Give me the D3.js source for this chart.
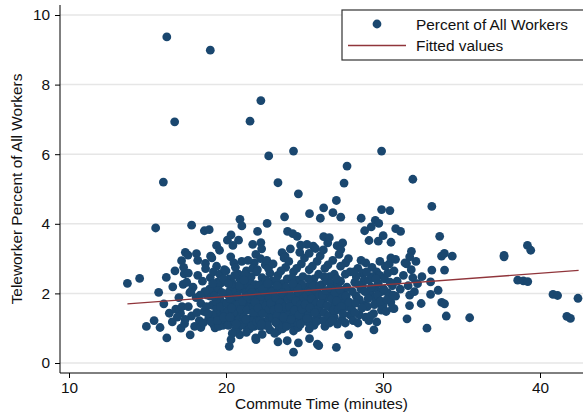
<!DOCTYPE html>
<html>
<head>
<meta charset="utf-8">
<script src="https://cdn.jsdelivr.net/npm/d3@7"></script>
<style>
  body { margin: 0; background: #fff; }
  svg text { font-family: "Liberation Sans", Arial, sans-serif; fill: #111; }
</style>
</head>
<body>
<div id="chart"></div>
<script>
// commute time (minutes), teleworker percent of all workers
var sparsePoints = [
  [16.23,9.37],[19.0,8.99],[22.22,7.54],[16.73,6.93],[21.53,6.95],[22.72,5.95],[24.30,6.09],[29.91,6.09],
  [27.71,5.66],[16.01,5.20],[23.31,5.18],[27.52,5.17],[31.90,5.28],[24.61,4.86],[27.03,4.67],[33.11,4.50],
  [25.32,4.29],[26.22,4.46],[26.01,4.16],[26.81,4.32],[27.31,4.19],[28.61,4.16],[29.91,4.41],[30.44,4.38],
  [23.73,4.20],[20.89,4.13],[21.01,3.94],[22.62,4.01],[17.81,3.96],[15.52,3.88],[18.62,3.80],[18.93,3.83],
  [22.01,3.78],[23.92,3.78],[24.25,3.72],[24.53,3.64],[28.83,3.80],[29.25,3.91],[29.51,4.10],[29.73,4.01],
  [30.01,3.66],[30.81,3.86],[31.12,3.78],[30.51,3.47],[29.70,3.50],[29.11,3.52],[33.61,3.64],[37.71,3.09],
  [37.71,3.05],[39.20,3.38],[39.41,3.24],[31.81,3.21],[33.73,3.07],[33.91,3.15],[34.41,3.07],[33.11,2.67],
  [33.92,2.67],[32.48,2.48],[33.03,2.33],[33.03,1.97],[33.51,2.09],[33.74,1.74],[33.92,1.70],[34.03,1.35],
  [35.52,1.30],[32.80,1.00],[32.43,1.71],[31.69,1.65],[31.53,1.27],[30.70,1.56],[38.58,2.38],[38.94,2.36],
  [39.22,2.34],[40.83,1.97],[41.12,1.94],[41.71,1.34],[41.94,1.28],[42.42,1.86],[13.72,2.29],[14.50,2.43],
  [15.71,2.03],[14.93,1.05],[15.42,1.22],[15.80,1.02],[16.04,1.70],[16.20,2.46],[16.23,0.72],[16.58,1.18],
  [16.39,1.43],[16.75,2.65],[16.61,2.19],[17.17,2.94],[17.34,2.56],[17.27,2.26],[17.41,3.18],[17.58,3.10],
  [18.12,3.14],[17.13,1.00],[17.36,1.13],[17.72,0.81],[17.10,1.43],[17.77,2.05],[18.69,2.86],[19.02,3.07],
  [19.40,3.38],[19.59,3.24],[20.09,3.53],[20.32,3.68],[20.80,3.53],[20.44,3.38],[20.21,0.48],[23.31,0.61],
  [23.90,0.64],[24.30,0.31],[24.61,0.58],[25.32,0.70],[25.82,0.54],[25.91,0.50],[27.03,0.45],[27.81,0.81],
  [29.42,0.95],[21.89,0.72],[21.91,0.67],[20.87,0.81],[20.32,0.67],[21.70,3.41],[22.22,3.46],[22.27,3.28],
  [23.57,3.17],[23.76,3.07],[24.75,3.39],[25.16,3.41],[25.56,3.36],[25.70,3.29],[26.22,3.63],[26.58,3.60],
  [26.48,3.45],[27.08,3.37],[27.43,3.45],[27.31,3.26],[27.62,2.88]
];
var densePoints = [
  [16.8,1.55],[17.0,1.88],[17.2,1.62],[17.4,1.25],[17.5,2.32],[16.9,1.32],[17.3,2.75],[17.6,2.58],
  [17.6,1.62],[17.8,1.35],[17.9,2.18],[18.0,1.05],[18.1,1.88],[18.2,2.52],[18.3,1.22],[18.4,1.71],
  [18.5,2.35],[18.2,2.95],[17.7,2.02],[18.6,1.48],[18.7,2.71],[18.4,1.02],[18.8,1.95],
  [18.9,1.28],[19.0,2.45],[19.1,1.66],[19.2,1.12],[19.3,2.08],[19.4,2.78],[19.5,1.42],[19.6,1.85],
  [19.7,2.30],[19.8,1.08],[19.0,1.92],[19.2,2.62],[19.4,1.55],[19.6,2.55],[19.8,1.72],[19.1,3.02],
  [19.5,2.15],[19.7,1.25],[19.3,1.01],[19.9,2.68],
  [20.0,1.35],[20.1,1.98],[20.2,2.42],[20.3,1.15],[20.4,1.75],[20.5,2.88],[20.6,1.50],[20.7,2.20],
  [20.8,1.02],[20.9,1.82],[20.0,2.65],[20.2,1.62],[20.4,2.30],[20.6,0.95],[20.8,2.55],[20.1,1.25],
  [20.3,3.05],[20.5,1.92],[20.7,1.38],[20.9,2.40],[20.4,0.85],[20.6,2.75],[20.2,2.05],
  [21.0,1.45],[21.1,2.12],[21.2,1.08],[21.3,2.65],[21.4,1.72],[21.5,2.38],[21.6,1.28],[21.7,1.95],
  [21.8,2.88],[21.9,1.55],[21.0,2.92],[21.2,1.85],[21.4,1.15],[21.6,2.48],[21.8,1.38],[21.1,1.65],
  [21.3,2.22],[21.5,0.98],[21.7,2.72],[21.9,2.05],[21.0,1.12],[21.2,2.55],[21.4,2.95],[21.6,1.78],
  [21.8,1.05],[21.5,1.58],[21.9,3.12],[21.3,0.88],[21.7,1.22],
  [22.0,1.32],[22.1,2.02],[22.2,1.62],[22.3,2.45],[22.4,1.18],[22.5,2.82],[22.6,1.48],[22.7,2.15],
  [22.8,0.95],[22.9,1.85],[22.0,2.68],[22.2,1.05],[22.4,2.25],[22.6,1.78],[22.8,2.58],[22.1,1.45],
  [22.3,0.82],[22.5,1.92],[22.7,1.25],[22.9,2.35],[22.0,1.88],[22.2,3.00],[22.4,1.58],[22.6,2.95],
  [22.8,1.35],[22.5,1.08],[22.9,1.62],[22.3,1.72],[22.7,2.72],
  [23.0,1.28],[23.1,2.08],[23.2,1.62],[23.3,2.52],[23.4,1.02],[23.5,1.88],[23.6,2.28],[23.7,1.42],
  [23.8,2.75],[23.9,1.15],[23.0,2.85],[23.2,1.15],[23.4,2.18],[23.6,1.72],[23.8,1.92],[23.1,1.48],
  [23.3,0.92],[23.5,2.65],[23.7,2.05],[23.9,1.58],[23.0,1.72],[23.2,2.38],[23.4,1.52],[23.6,0.98],
  [23.8,1.28],[23.5,1.28],[23.9,2.42],[23.3,1.82],[23.7,3.02],[23.1,0.85],
  [24.0,1.38],[24.1,2.12],[24.2,1.72],[24.3,2.62],[24.4,1.08],[24.5,1.95],[24.6,2.38],[24.7,1.48],
  [24.8,2.85],[24.9,1.22],[24.0,2.92],[24.2,1.12],[24.4,2.22],[24.6,1.78],[24.8,2.02],[24.1,1.55],
  [24.3,0.92],[24.5,2.72],[24.7,2.18],[24.9,1.65],[24.0,1.85],[24.2,2.45],[24.4,1.58],[24.6,1.02],
  [24.8,1.32],[24.5,1.35],[24.9,2.48],[24.3,1.88],[24.7,3.18],[24.1,3.28],
  [25.0,1.42],[25.1,2.18],[25.2,1.78],[25.3,2.68],[25.4,1.12],[25.5,1.98],[25.6,2.42],[25.7,1.52],
  [25.8,2.92],[25.9,1.25],[25.0,3.02],[25.2,1.18],[25.4,2.28],[25.6,1.82],[25.8,2.08],[25.1,1.62],
  [25.3,0.98],[25.5,2.78],[25.7,2.22],[25.9,1.68],[25.0,1.92],[25.4,1.62],[25.6,1.08],[25.8,1.38],
  [25.3,3.15],[25.9,2.55],
  [26.0,1.48],[26.1,2.25],[26.2,1.82],[26.3,2.72],[26.4,1.18],[26.5,2.02],[26.6,2.48],[26.7,1.58],
  [26.8,2.95],[26.9,1.32],[26.0,3.08],[26.2,1.22],[26.4,2.35],[26.6,1.88],[26.8,2.15],[26.1,1.68],
  [26.5,2.82],[26.7,2.28],[26.9,1.75],[26.3,1.05],[26.6,1.15],[26.9,2.55],[26.2,3.25],
  [27.0,1.52],[27.1,2.28],[27.2,1.88],[27.3,2.78],[27.4,1.25],[27.5,2.08],[27.6,2.55],[27.7,1.62],
  [27.8,3.00],[27.9,1.38],[27.1,1.12],[27.3,2.35],[27.5,1.78],[27.7,2.18],[27.9,2.62],[27.2,3.12],
  [27.6,1.15],[27.4,1.95],
  [28.0,1.55],[28.2,2.32],[28.3,1.92],[28.4,2.72],[28.5,1.38],[28.6,2.12],[28.7,2.58],[28.8,1.68],
  [28.9,2.88],[28.1,1.22],[28.3,2.48],[28.5,1.82],[28.7,2.22],[28.9,1.32],[28.2,1.45],[28.6,2.95],
  [28.8,2.38],[28.4,1.15],
  [29.0,1.62],[29.1,2.38],[29.2,1.98],[29.3,2.75],[29.4,1.42],[29.5,2.15],[29.6,2.62],[29.7,1.72],
  [29.8,2.92],[29.9,1.52],[29.1,1.22],[29.3,2.48],[29.5,1.88],[29.7,2.28],[29.9,2.05],[29.2,1.35],
  [29.6,1.18],[29.8,2.52],
  [30.0,1.65],[30.1,2.42],[30.3,2.02],[30.4,2.85],[30.5,1.75],[30.6,2.22],[30.7,2.65],[30.8,1.92],
  [30.9,2.35],[30.2,1.48],[30.5,3.02],[30.8,2.98],[30.3,2.58],[30.6,1.58],
  [31.1,2.12],[31.3,2.52],[31.5,2.85],[31.6,2.22],[31.7,1.95],[31.8,2.68],[31.9,2.45],[32.0,2.05],
  [32.1,2.92],[32.2,2.28],[31.4,2.88],[31.7,3.05]
];
var corePoints = [
  [18.55,1.15],[18.75,1.62],[18.95,2.12],[19.15,1.38],[19.35,1.78],[19.55,1.05],[19.75,2.02],[19.95,1.48],
  [18.65,2.05],[18.85,1.42],[19.05,1.18],[19.25,1.92],[19.45,2.32],[19.65,1.62],[19.85,2.42],[18.35,1.95],
  [18.15,1.45],[19.15,2.28],[19.45,1.22],[19.85,1.32],
  [20.05,1.72],[20.15,1.08],[20.25,1.85],[20.35,2.22],[20.45,1.45],[20.55,1.18],[20.65,2.05],[20.75,1.68],
  [20.85,1.25],[20.95,2.12],[20.15,2.28],[20.35,1.58],[20.55,2.52],[20.75,1.92],[20.95,1.55],[20.25,1.32],
  [20.65,1.12],[20.85,2.22],
  [21.05,1.78],[21.15,1.32],[21.25,2.02],[21.35,1.52],[21.45,2.28],[21.55,1.85],[21.65,1.08],[21.75,1.62],
  [21.85,2.25],[21.95,1.18],[21.15,2.38],[21.35,1.92],[21.55,2.12],[21.75,1.45],[21.95,2.62],[21.25,1.25],
  [21.65,2.02],[21.85,1.75],
  [22.05,1.58],[22.15,1.22],[22.25,1.92],[22.35,1.42],[22.45,2.02],[22.55,1.65],[22.65,1.08],[22.75,1.88],
  [22.85,2.12],[22.95,1.32],[22.15,2.25],[22.35,2.12],[22.55,2.38],[22.75,1.55],[22.95,2.05],[22.25,1.12],
  [22.65,2.28],[22.85,1.72],
  [23.05,1.52],[23.15,1.88],[23.25,1.35],[23.35,2.15],[23.45,1.72],[23.55,1.12],[23.65,1.98],[23.75,1.62],
  [23.85,2.18],[23.95,1.85],[23.15,1.18],[23.35,1.58],[23.55,2.02],[23.75,1.25],[23.95,1.35],[23.25,2.22],
  [23.65,1.32],[23.85,1.05],
  [24.05,1.62],[24.15,1.92],[24.25,1.32],[24.35,2.18],[24.45,1.78],[24.55,1.15],[24.65,2.02],[24.75,1.68],
  [24.85,2.25],[24.95,1.88],[24.15,1.25],[24.35,1.52],[24.55,2.15],[24.75,1.12],[24.95,1.42],[24.25,2.28],
  [24.65,1.38],[24.85,1.55],
  [25.05,1.68],[25.15,1.95],[25.25,1.38],[25.35,2.05],[25.45,1.85],[25.55,1.22],[25.65,2.12],[25.75,1.72],
  [25.85,1.55],[25.95,1.95],[25.15,1.28],[25.35,1.58],[25.55,2.22],[25.75,1.18],[25.95,2.22],[25.25,2.42],
  [25.65,1.45],
  [26.05,1.72],[26.15,1.95],[26.25,1.45],[26.35,2.08],[26.45,1.65],[26.55,1.35],[26.65,2.15],[26.75,1.85],
  [26.85,1.52],[26.95,2.02],[27.05,1.78],[27.15,1.55],[27.25,2.12],[27.35,1.62],[27.45,1.42],[26.25,2.48],
  [26.75,1.22],[27.05,2.42],
  [27.65,1.92],[27.85,1.75],[28.05,2.05],[28.25,1.72],[28.45,2.25],[28.65,1.58],[28.85,2.05],[29.05,1.85],
  [29.25,2.18],[29.45,1.68],[29.65,1.95],[29.85,1.78],[30.05,2.12],[30.25,1.82],[30.45,2.32],[30.65,1.95],
  [28.15,2.62],[28.95,2.62],[29.55,2.42],[30.15,2.78]
];
// fitted line end points (lfit)
var fitX = [13.72, 42.46];
var fitY = [1.70, 2.66];
var xTicks = [10, 20, 30, 40];
var yTicks = [0, 2, 4, 6, 8, 10];

var width = 583, height = 420;
var plotLeft = 60, plotRight = 583, plotTop = 5, plotBottom = 373;
var navy = "#1a476f", maroon = "#90353b";
var fontSize = "15.4px";

var svg = d3.select("#chart").append("svg")
    .attr("width", width).attr("height", height)
    .style("background", "#fff");

var x = d3.scaleLinear().domain([10, 40]).range([69, 540]);
var y = d3.scaleLinear().domain([0, 10]).range([363, 15]);

// grid
svg.append("g").selectAll("line").data(yTicks).enter().append("line")
    .attr("x1", plotLeft).attr("x2", plotRight)
    .attr("y1", function(d){ return y(d); }).attr("y2", function(d){ return y(d); })
    .style("stroke", "#e6e6e6").style("stroke-width", 1.5);

// points
var allPoints = sparsePoints.concat(densePoints, corePoints);
svg.append("g").selectAll("circle").data(allPoints).enter().append("circle")
    .attr("cx", function(d){ return x(d[0]); })
    .attr("cy", function(d){ return y(d[1]); })
    .attr("r", 4.4)
    .style("fill", navy);

// fitted line
var line = d3.line().x(function(d){ return x(d[0]); }).y(function(d){ return y(d[1]); });
svg.append("path").datum(d3.zip(fitX, fitY))
    .attr("d", line).style("fill", "none")
    .style("stroke", maroon).style("stroke-width", 1.3);

// axes
var xAxis = svg.append("g").attr("transform", "translate(0," + plotBottom + ")")
    .call(d3.axisBottom(x).tickValues(xTicks).tickSize(5).tickPadding(4));
var yAxis = svg.append("g").attr("transform", "translate(" + plotLeft + ",0)")
    .call(d3.axisLeft(y).tickValues(yTicks).tickSize(5).tickPadding(5));
[xAxis, yAxis].forEach(function(a){
  a.select(".domain").remove();
  a.selectAll("line").style("stroke", "#000");
  a.selectAll("text").style("font-size", fontSize).style("font-family", "Liberation Sans, Arial, sans-serif").style("fill", "#111");
});
svg.append("line").attr("x1", plotLeft).attr("x2", plotRight).attr("y1", plotBottom).attr("y2", plotBottom)
    .style("stroke", "#000").style("stroke-width", 1);
svg.append("line").attr("x1", plotLeft).attr("x2", plotLeft).attr("y1", plotTop).attr("y2", plotBottom)
    .style("stroke", "#000").style("stroke-width", 1);

// titles
svg.append("text").attr("x", (plotLeft + plotRight) / 2).attr("y", 409)
    .attr("text-anchor", "middle").style("font-size", fontSize)
    .text("Commute Time (minutes)");
svg.append("text").attr("transform", "translate(22," + (plotTop + plotBottom) / 2 + ") rotate(-90)")
    .attr("text-anchor", "middle").style("font-size", fontSize)
    .text("Teleworker Percent of All Workers");

// legend
var legend = svg.append("g");
legend.append("rect").attr("x", 342).attr("y", 10).attr("width", 260).attr("height", 50)
    .style("fill", "#fff").style("stroke", "#333").style("stroke-width", 1.2);
legend.append("circle").attr("cx", 377).attr("cy", 24).attr("r", 4.4).style("fill", navy);
legend.append("line").attr("x1", 348).attr("x2", 406).attr("y1", 45.5).attr("y2", 45.5)
    .style("stroke", maroon).style("stroke-width", 1.3);
legend.append("text").attr("x", 416).attr("y", 29.5).style("font-size", fontSize).text("Percent of All Workers");
legend.append("text").attr("x", 416).attr("y", 51).style("font-size", fontSize).text("Fitted values");
</script>
</body>
</html>
